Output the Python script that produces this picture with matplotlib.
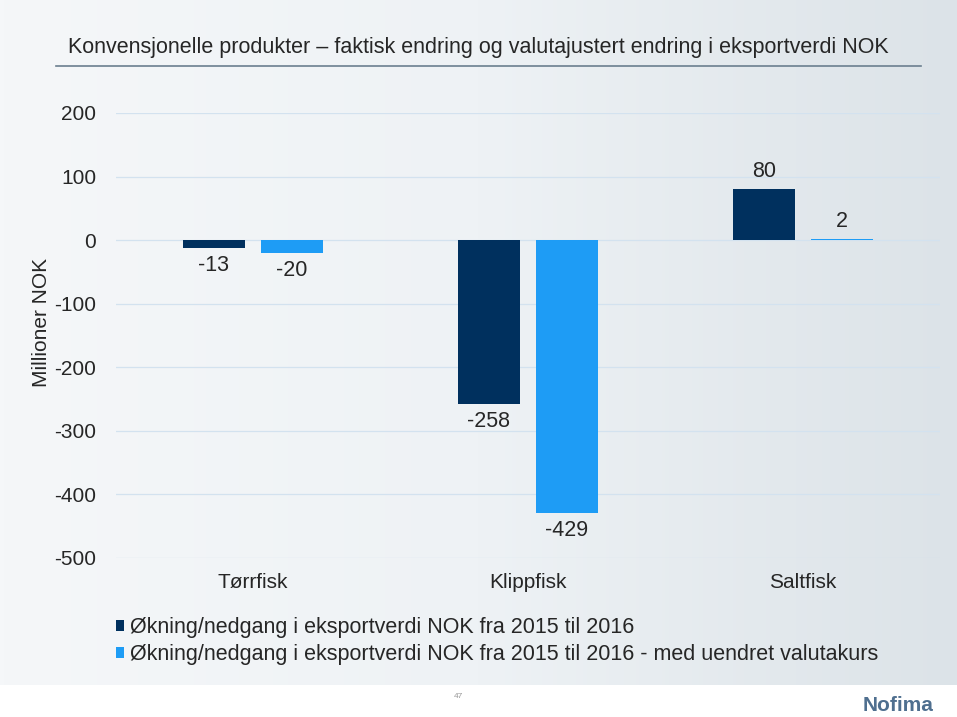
import numpy as np
import matplotlib.pyplot as plt
from matplotlib.colors import LinearSegmentedColormap

categories = ["Tørrfisk", "Klippfisk", "Saltfisk"]
actual = [-13, -258, 80]
adjusted = [-20, -429, 2]
labels = [
    "Økning/nedgang i eksportverdi NOK fra 2015 til 2016",
    "Økning/nedgang i eksportverdi NOK fra 2015 til 2016 - med uendret valutakurs",
]
yticks = [-500, -400, -300, -200, -100, 0, 100, 200]

plt.rcParams["font.family"] = ["Liberation Sans", "DejaVu Sans"]

fig = plt.figure(figsize=(9.57, 7.17), dpi=100)

# slide background (gradient), white strip at the bottom
bg = fig.add_axes([0, 0.045, 1, 0.955], zorder=-10)
grad = np.linspace(0, 1, 256).reshape(1, -1)
grad = np.vstack([grad, grad])
cmap = LinearSegmentedColormap.from_list("bg", ["#F5F7F9", "#EEF2F5", "#DCE3E8"])
bg.imshow(grad, aspect="auto", cmap=cmap, extent=[0, 1, 0, 1])
bg.axis("off")

# title and rule under it
fig.text(0.5, 0.934, "Konvensjonelle produkter \u2013 faktisk endring og valutajustert endring i eksportverdi NOK",
         ha="center", va="center", fontsize=15.5, color="#262626")
fig.add_artist(plt.Line2D([0.058, 0.962], [0.908, 0.908], color="#6B7F8F", lw=1.2))

ax = fig.add_axes([0.1207, 0.2218, 0.862, 0.6206])
ax.patch.set_alpha(0)
x = np.arange(len(categories))
w = 0.225
b1 = ax.bar(x - 0.142, actual, w, color="#00305E", label=labels[0], zorder=3)
b2 = ax.bar(x + 0.142, adjusted, w, color="#1E9CF5", label=labels[1], zorder=3)

for bars, vals in [(b1, actual), (b2, adjusted)]:
    for r, v in zip(bars, vals):
        cx = r.get_x() + r.get_width() / 2
        if v < 0:
            ax.annotate(str(v), (cx, v), xytext=(0, -5), textcoords="offset points",
                        ha="center", va="top", fontsize=15.5, color="#262626")
        else:
            ax.annotate(str(v), (cx, v), xytext=(0, 5), textcoords="offset points",
                        ha="center", va="bottom", fontsize=15.5, color="#262626")

ax.set_xlim(-0.5, 2.5)
ax.set_ylim(-500, 200)
ax.set_yticks(yticks)
ax.set_yticklabels([str(t) for t in yticks], fontsize=15, color="#262626")
ax.set_xticks(x)
ax.set_xticklabels(categories, fontsize=15, color="#262626")
ax.tick_params(axis="y", length=0, pad=14)
ax.tick_params(axis="x", length=0, pad=11)
ax.yaxis.grid(True, color="#D3E2EF", lw=0.9, zorder=0)
for s in ax.spines.values():
    s.set_visible(False)
ax.set_ylabel("Millioner NOK", fontsize=15, color="#262626")
ax.yaxis.set_label_coords(-0.078, 0.53)

ax.legend(loc="upper left", bbox_to_anchor=(0.0, -0.133), frameon=False, fontsize=15.5,
          handlelength=0.4, handleheight=0.4, handletextpad=0.25, labelspacing=0.28,
          borderaxespad=0, borderpad=0, labelcolor="#262626")

fig.text(0.479, 0.028, "47", fontsize=6, color="#999999", ha="center", va="center")
fig.text(0.938, 0.016, "Nofima", fontsize=15, fontweight="bold", color="#4F6F8F",
         ha="center", va="center")

fig.savefig("out.png", dpi=100)
